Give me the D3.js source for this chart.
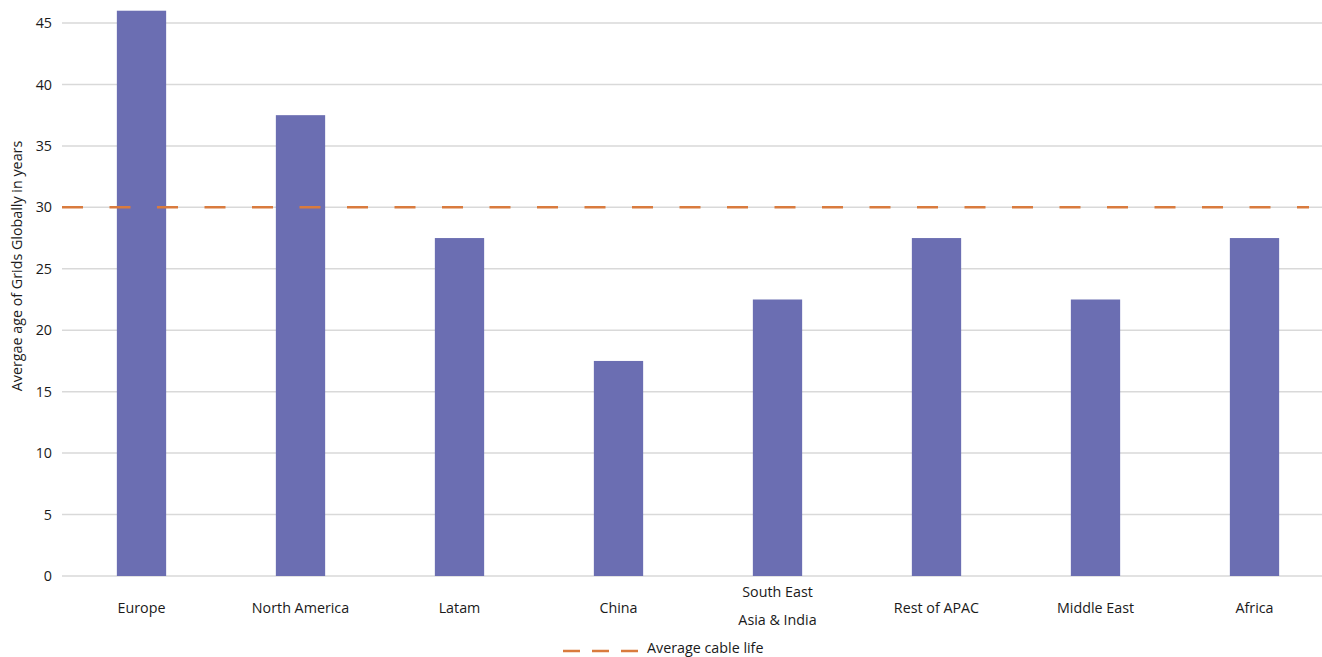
<!DOCTYPE html>
<html><head><meta charset="utf-8">
<script src="https://cdn.jsdelivr.net/npm/d3@7"></script>
<style>body{margin:0;background:#fff;}svg{display:block;font-family:"Open Sans",sans-serif;}</style>
</head><body>
<svg id="c" width="1322" height="657"></svg>
<script>
const categories = ["Europe","North America","Latam","China","South East\nAsia & India","Rest of APAC","Middle East","Africa"];
const ages = [46, 37.5, 27.5, 17.5, 22.5, 27.5, 22.5, 27.5];
const averageCableLife = 30;
const yTicks = [0,5,10,15,20,25,30,35,40,45];
const yLabel = "Avergae age of Grids Globally in years";
const legendLabel = "Average cable life";

const svg = d3.select("#c");
const left = 62, bandRight = 1334, top0 = 23, bottom = 576;
const fs = 14.3;
const x = d3.scaleBand().domain(categories).range([left, bandRight]).paddingInner(0.69).paddingOuter(0.345);
const y = d3.scaleLinear().domain([0,45]).range([bottom, top0]);

// gridlines
svg.append("g").selectAll("line").data(yTicks).join("line")
  .attr("x1", left).attr("x2", 1322)
  .attr("y1", d=>y(d)).attr("y2", d=>y(d))
  .attr("stroke", "#d9d9d9").attr("stroke-width", 1.5);

// y axis labels
const yAxis = d3.axisLeft(y).tickValues(yTicks).tickSize(0).tickPadding(10);
const ga = svg.append("g").attr("transform", `translate(${left},0)`).call(yAxis);
ga.select(".domain").remove();
ga.selectAll("text").attr("font-size", fs).attr("fill", "#1a1a1a").attr("font-family","Open Sans, sans-serif");

// bars
svg.append("g").selectAll("rect").data(categories).join("rect")
  .attr("x", d=>x(d)).attr("width", x.bandwidth())
  .attr("y", (d,i)=>y(ages[i])).attr("height", (d,i)=>y(0)-y(ages[i]))
  .attr("fill", "#6b6eb2");

// average line
svg.append("line")
  .attr("x1", left).attr("x2", 1309)
  .attr("y1", y(averageCableLife)).attr("y2", y(averageCableLife))
  .attr("stroke", "#d97b3e").attr("stroke-width", 2.5)
  .attr("stroke-dasharray", "21 26.5");

// x labels
const xl = svg.append("g").selectAll("text").data(categories).join("text")
  .attr("x", d=>x(d)+x.bandwidth()/2)
  .attr("text-anchor", "middle").attr("font-size", fs).attr("fill", "#1a1a1a");
xl.each(function(d){
  const lines = d.split("\n");
  const t = d3.select(this);
  const base = lines.length === 1 ? 613 : 597;
  lines.forEach((l,i)=>t.append("tspan").attr("x", x(d)+x.bandwidth()/2).attr("y", base + i*28).text(l));
});

// y label
svg.append("text")
  .attr("transform", `translate(22,${266}) rotate(-90)`)
  .attr("text-anchor","middle").attr("font-size", fs).attr("fill","#1a1a1a")
  .text(yLabel);

// legend
const lg = svg.append("g");
lg.append("line").attr("x1", 563).attr("x2", 638).attr("y1", 651).attr("y2", 651)
  .attr("stroke", "#d97b3e").attr("stroke-width", 2.5).attr("stroke-dasharray", "17 12");
lg.append("text").attr("x", 647).attr("y", 653).attr("font-size", fs).attr("fill","#1a1a1a").text(legendLabel);
</script>
</body></html>
